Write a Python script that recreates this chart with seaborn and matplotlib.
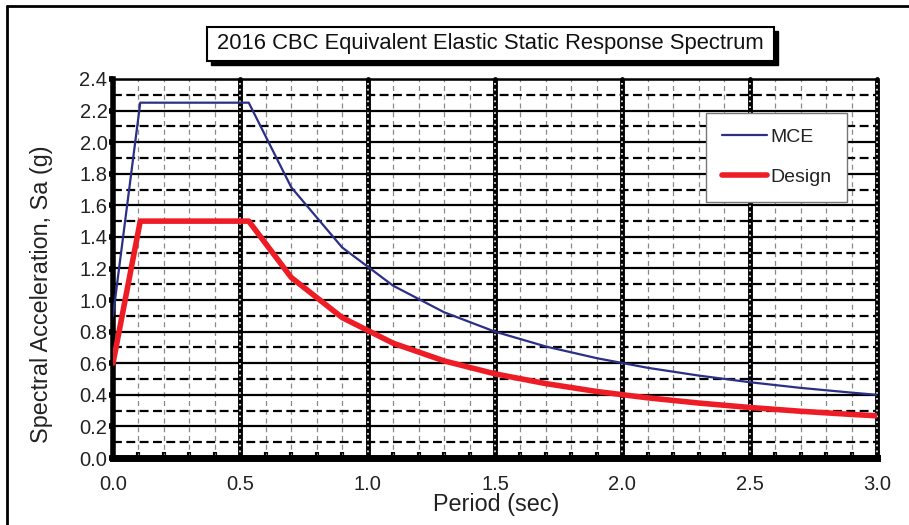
import numpy as np
import pandas as pd
import matplotlib
matplotlib.use("Agg")
import matplotlib.pyplot as plt
import seaborn as sns
from matplotlib.patches import Rectangle
from matplotlib.lines import Line2D

# Data
period = [0.0, 0.107, 0.533, 0.7, 0.9, 1.1, 1.3, 1.5, 1.7, 1.9, 2.1, 2.3, 2.5, 2.7, 2.9, 3.0]
mce = [0.90, 2.25, 2.25, 1.714, 1.333, 1.091, 0.923, 0.80, 0.706, 0.632, 0.571, 0.522, 0.48, 0.444, 0.414, 0.40]
design = [0.60, 1.50, 1.50, 1.143, 0.889, 0.727, 0.615, 0.533, 0.471, 0.421, 0.381, 0.348, 0.32, 0.296, 0.276, 0.267]
series_names = ["MCE", "Design"]
title = "2016 CBC Equivalent Elastic Static Response Spectrum"
xlabel = "Period (sec)"
ylabel = "Spectral Acceleration, Sa (g)"

df = pd.DataFrame({
    "Period": period * 2,
    "Sa": mce + design,
    "Series": [series_names[0]] * len(period) + [series_names[1]] * len(period),
})

sns.set_style("white")
plt.rcParams["font.family"] = ["Liberation Sans", "DejaVu Sans"]

W, H = 909, 525
fig = plt.figure(figsize=(W / 100, H / 100), dpi=100)
ax = fig.add_axes([113 / W, 1 - 458 / H, (877 - 113) / W, (458 - 79) / H])

ax.set_xlim(0, 3.0)
ax.set_ylim(0, 2.4)

# grid: minor vertical
for x in np.arange(0.1, 3.0, 0.1):
    if abs(x / 0.5 - round(x / 0.5)) < 1e-6:
        continue
    ax.axvline(x, color="#8a8a8a", lw=0.9, ls=(0, (4, 3)), zorder=1)
# horizontal
for y in np.arange(0.1, 2.45, 0.1):
    k = int(round(y * 10))
    if k % 2 == 0:
        ax.axhline(y, color="black", lw=1.6, zorder=1.5)
    else:
        ax.axhline(y, color="black", lw=1.6, ls=(0, (4, 2)), zorder=1.5)
# major vertical
for x in [0.5, 1.0, 1.5, 2.0, 2.5, 3.0]:
    ax.axvline(x, color="black", lw=3.5, zorder=2, clip_on=False)
    ax.axvline(x, color="white", lw=1.2, ls=(0, (1, 2.5)), zorder=2.1, clip_on=False)

palette = {"MCE": "#2B2F86", "Design": "#EE1C25"}
sns.lineplot(data=df[df.Series == "MCE"], x="Period", y="Sa", color=palette["MCE"],
             lw=1.6, ax=ax, label="MCE", zorder=4)
sns.lineplot(data=df[df.Series == "Design"], x="Period", y="Sa", color=palette["Design"],
             lw=4.0, ax=ax, label="Design", zorder=5)

for s in ["top", "right"]:
    ax.spines[s].set_visible(False)
ax.spines["left"].set_linewidth(4)
ax.spines["bottom"].set_linewidth(5)
ax.spines["left"].set_color("black")
ax.spines["bottom"].set_color("black")
ax.axhline(2.4, color="black", lw=1.8, zorder=2, clip_on=False)

ax.set_xticks([0, 0.5, 1.0, 1.5, 2.0, 2.5, 3.0])
ax.set_xticklabels(["0.0", "0.5", "1.0", "1.5", "2.0", "2.5", "3.0"])
ax.set_yticks(np.round(np.arange(0, 2.41, 0.2), 1))
ax.set_yticklabels([f"{v:.1f}" for v in np.arange(0, 2.41, 0.2)])
ax.set_xticks(np.arange(0.1, 3.0, 0.1), minor=True)
ax.tick_params(axis="x", which="major", length=0, pad=12, labelsize=14.5, colors="#222222")
ax.tick_params(axis="x", which="minor", direction="in", length=4, width=3, color="black")
ax.tick_params(axis="y", which="major", direction="out", length=3, width=4, color="black",
               pad=1, labelsize=14.5, labelcolor="#222222")
ax.tick_params(bottom=True, left=True, which="both")
ax.tick_params(axis="x", which="major", bottom=False)

ax.set_xlabel(xlabel, fontsize=16.8, color="#222222")
ax.set_ylabel(ylabel, fontsize=16.8, color="#222222")
ax.xaxis.set_label_coords(0.501, -0.092)
ax.yaxis.set_label_coords(-0.0785, 0.433)

leg = ax.legend(loc="upper left", bbox_to_anchor=((706 - 113) / 764, 1 - (113 - 79) / 379),
                frameon=True, fancybox=False, fontsize=14, handlelength=2.35,
                labelspacing=1.15, borderpad=0.8, handletextpad=0.15, borderaxespad=0,
                framealpha=1)
leg.get_frame().set_edgecolor("#777777")
leg.get_frame().set_linewidth(1.0)
leg.set_zorder(10)
for t in leg.get_texts():
    t.set_color("#222222")

# title box with shadow
bx0, bx1, by0, by1 = 207, 774, 27, 61
fig.add_artist(Rectangle(((bx0 + 4) / W, 1 - (by1 + 4) / H), (bx1 - bx0) / W, (by1 - by0) / H,
                         transform=fig.transFigure, facecolor="black", edgecolor="black", zorder=1))
fig.add_artist(Rectangle((bx0 / W, 1 - by1 / H), (bx1 - bx0) / W, (by1 - by0) / H,
                         transform=fig.transFigure, facecolor="white", edgecolor="black", lw=1.5, zorder=2))
fig.text((bx0 + bx1) / 2 / W, 1 - (by0 + by1) / 2 / H, title, ha="center", va="center",
         fontsize=15.8, color="#111111", zorder=3)

# outer frame (left and top visible)
fig.add_artist(Line2D([7 / W, 7 / W], [0, 1 - 6 / H], transform=fig.transFigure, color="black", lw=2))
fig.add_artist(Line2D([7 / W, 1], [1 - 6 / H, 1 - 6 / H], transform=fig.transFigure, color="black", lw=2))

fig.savefig("out.png", dpi=100)
